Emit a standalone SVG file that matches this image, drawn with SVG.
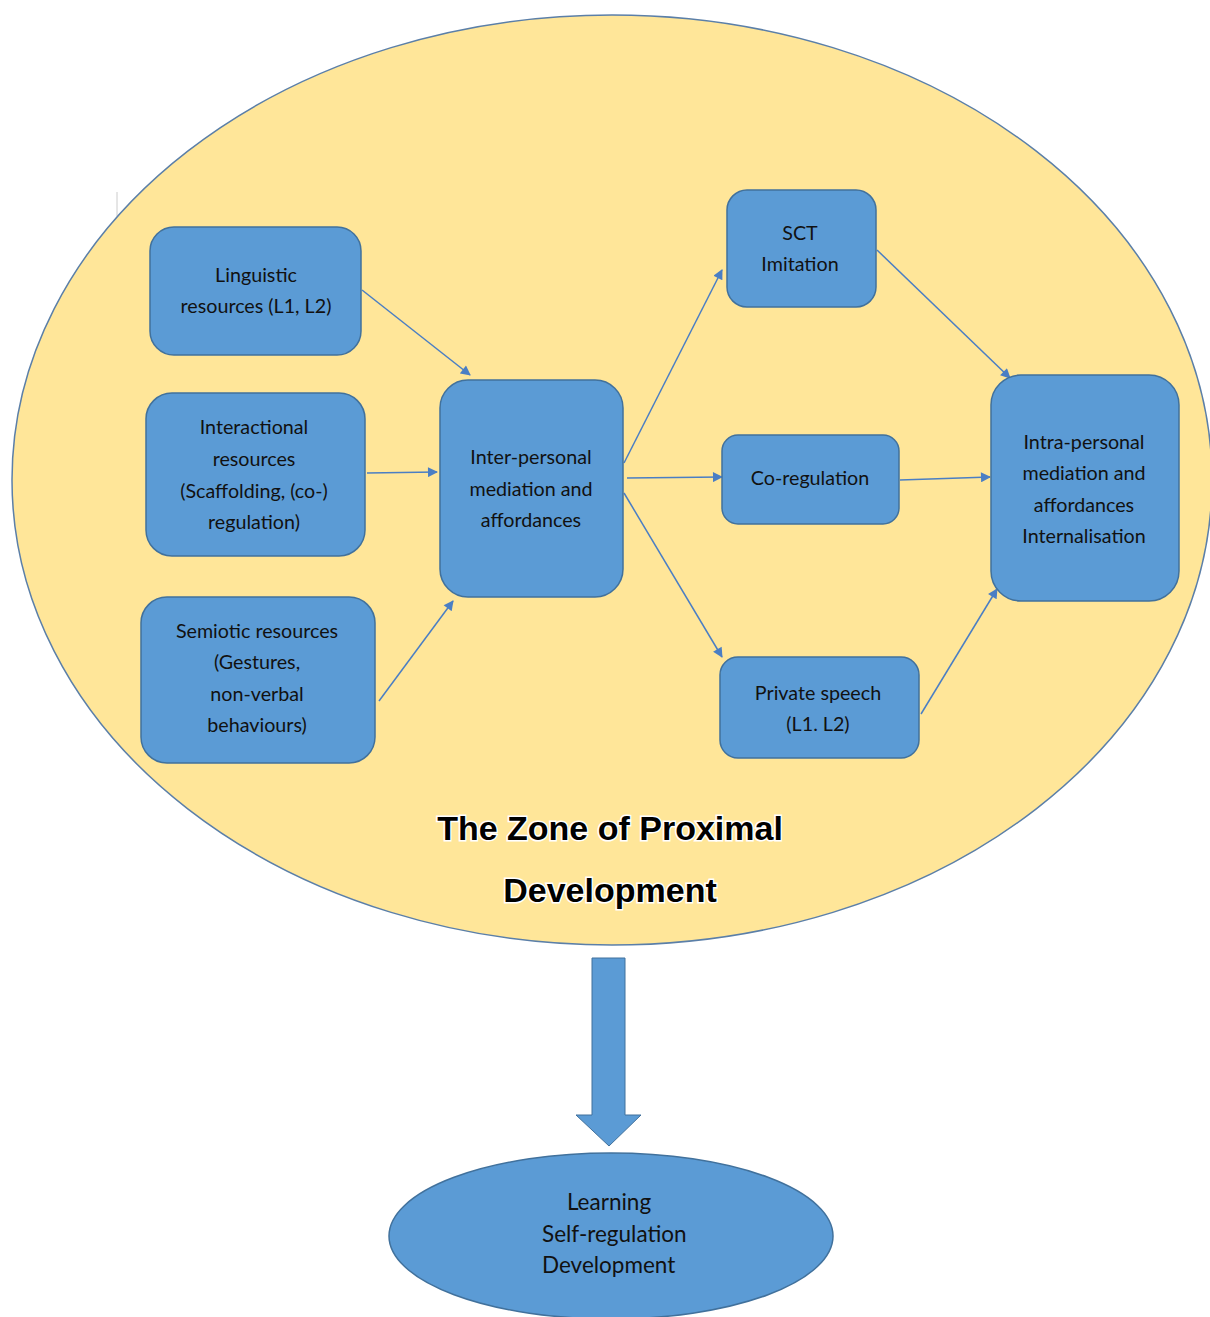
<svg xmlns="http://www.w3.org/2000/svg" width="1210" height="1317" viewBox="0 0 1210 1317">
<style>
.node{fill:#5B9BD5;stroke:#41719C;stroke-width:1.5}
.t{font-family:Lato,"Liberation Sans",sans-serif;font-size:19.7px;fill:#111;text-anchor:middle}
.tl{font-family:Lato,"Liberation Sans",sans-serif;font-size:22.5px;fill:#111}
.c{stroke:#4A7EC4;stroke-width:1.5;fill:none;marker-end:url(#ah)}
.title{font-family:"Liberation Sans",Arial,sans-serif;font-weight:bold;font-size:34px;fill:#000;text-anchor:middle;stroke:#fff;stroke-width:3;paint-order:stroke}
</style>
<defs>
<marker id="ah" viewBox="0 0 10 10" refX="9" refY="5" markerWidth="11" markerHeight="10" orient="auto" markerUnits="userSpaceOnUse">
<path d="M0,0 L10,5 L0,10 z" fill="#4A7EC4"/>
</marker>
</defs>
<rect width="1210" height="1317" fill="#fff"/>
<line x1="117" y1="192" x2="117" y2="216" stroke="#ccc" stroke-width="1"/>
<g id="zpd">
<ellipse cx="612" cy="480" rx="600" ry="465" fill="#FFE699" stroke="#5B7FA8" stroke-width="1.5"/>
<text class="title" x="610" y="840">The Zone of Proximal</text>
<text class="title" x="610" y="902">Development</text>
</g>
<g id="connectors">
<line class="c" x1="362" y1="290" x2="470" y2="375"/>
<line class="c" x1="367" y1="473" x2="437" y2="472"/>
<line class="c" x1="379" y1="701" x2="453" y2="601"/>
<line class="c" x1="624" y1="463" x2="722" y2="270"/>
<line class="c" x1="627" y1="478" x2="722" y2="477"/>
<line class="c" x1="624" y1="493" x2="722" y2="657"/>
<line class="c" x1="877" y1="250" x2="1010" y2="378"/>
<line class="c" x1="900" y1="480" x2="990" y2="477"/>
<line class="c" x1="921" y1="714" x2="997" y2="589"/>
</g>
<g id="linguistic">
<rect class="node" x="150" y="227" width="211" height="128" rx="24"/>
<text class="t" x="256" y="282">Linguistic</text>
<text class="t" x="256" y="313">resources (L1, L2)</text>
</g>
<g id="interactional">
<rect class="node" x="146" y="393" width="219" height="163" rx="26"/>
<text class="t" x="254" y="434">Interactional</text>
<text class="t" x="254" y="466">resources</text>
<text class="t" x="254" y="498">(Scaffolding, (co-)</text>
<text class="t" x="254" y="529">regulation)</text>
</g>
<g id="semiotic">
<rect class="node" x="141" y="597" width="234" height="166" rx="26"/>
<text class="t" x="257" y="638">Semiotic resources</text>
<text class="t" x="257" y="669">(Gestures,</text>
<text class="t" x="257" y="701">non-verbal</text>
<text class="t" x="257" y="732">behaviours)</text>
</g>
<g id="inter">
<rect class="node" x="440" y="380" width="183" height="217" rx="28"/>
<text class="t" x="531" y="464">Inter-personal</text>
<text class="t" x="531" y="496">mediation and</text>
<text class="t" x="531" y="527">affordances</text>
</g>
<g id="sct">
<rect class="node" x="727" y="190" width="149" height="117" rx="20"/>
<text class="t" x="800" y="240">SCT</text>
<text class="t" x="800" y="271">Imitation</text>
</g>
<g id="coreg">
<rect class="node" x="722" y="435" width="177" height="89" rx="16"/>
<text class="t" x="810" y="485">Co-regulation</text>
</g>
<g id="private">
<rect class="node" x="720" y="657" width="199" height="101" rx="18"/>
<text class="t" x="818" y="700">Private speech</text>
<text class="t" x="818" y="731">(L1. L2)</text>
</g>
<g id="intra">
<rect class="node" x="991" y="375" width="188" height="226" rx="30"/>
<text class="t" x="1084" y="449">Intra-personal</text>
<text class="t" x="1084" y="480">mediation and</text>
<text class="t" x="1084" y="512">affordances</text>
<text class="t" x="1084" y="543">Internalisation</text>
</g>
<g id="bigarrow">
<path d="M592,958 L625,958 L625,1115 L641,1115 L609,1146 L576,1115 L592,1115 z" fill="#5B9BD5" stroke="#41719C" stroke-width="1"/>
</g>
<g id="outcome">
<ellipse cx="611" cy="1236" rx="222" ry="83" fill="#5B9BD5" stroke="#41719C" stroke-width="1.5"/>
<text class="tl" x="609" y="1210" text-anchor="middle">Learning</text>
<text class="tl" x="542" y="1242">Self-regulation</text>
<text class="tl" x="542" y="1273">Development</text>
</g>
</svg>
